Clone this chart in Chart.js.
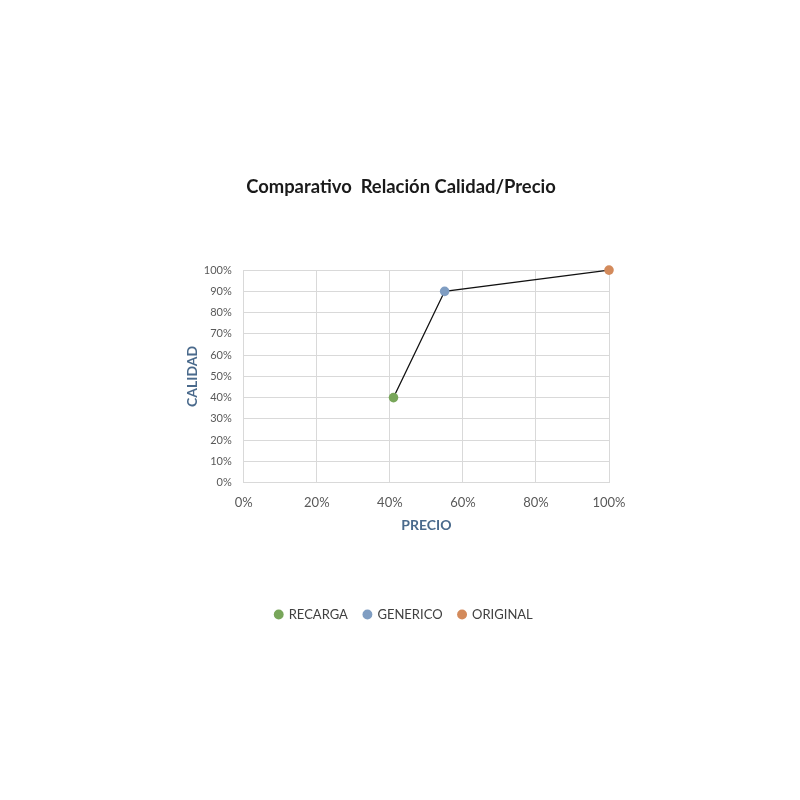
<!DOCTYPE html>
<html>
<head>
<meta charset="utf-8">
<script src="https://cdn.jsdelivr.net/npm/chart.js@4/dist/chart.umd.min.js"></script>
<style>
  html, body { margin: 0; padding: 0; background: #fff; }
  #wrap { width: 800px; height: 800px; }
</style>
</head>
<body>
<div id="wrap"><canvas id="chart" width="800" height="800"></canvas></div>
<script>
var seriesNames = ['RECARGA', 'GENERICO', 'ORIGINAL'];
var precio = [41, 55, 100];   // x, percent
var calidad = [40, 90, 100];  // y, percent
var seriesColors = ['#78A65A', '#7F9DC2', '#D38A5B'];

var font = 'Lato, "Open Sans", sans-serif';

var pointSets = seriesNames.map(function(name, i) {
    return {
        label: name,
        data: [{x: precio[i], y: calidad[i]}],
        backgroundColor: seriesColors[i],
        borderColor: seriesColors[i],
        pointRadius: 4.8,
        pointBorderWidth: 0,
        showLine: false,
        clip: false,
        order: 1
    };
});

var lineSet = {
    label: 'linea',
    data: precio.map(function(p, i) { return {x: p, y: calidad[i]}; }),
    borderColor: '#111',
    borderWidth: 1.3,
    pointRadius: 0,
    showLine: true,
    clip: false,
    order: 2
};

// title and legend sit centred on the page, not on the padded box
var centreBoxes = {
    id: 'centreBoxes',
    afterLayout: function(chart) {
        chart.titleBlock.left += 12; chart.titleBlock.right += 12;
        chart.legend.left += 15; chart.legend.right += 15;
    }
};

var context = document.getElementById('chart').getContext('2d');
new Chart(context, {
    type: 'scatter',
    data: {datasets: pointSets.concat([lineSet])},
    plugins: [centreBoxes],
    options: {
        responsive: false,
        animation: false,
        layout: {padding: {top: 176, left: 169, right: 191, bottom: 169}},
        plugins: {
            title: {
                display: true,
                text: 'Comparativo  Relación Calidad/Precio',
                color: '#1a1a1a',
                font: {family: font, size: 18.4, weight: 'bold'},
                padding: {top: 0, bottom: 72}
            },
            legend: {
                position: 'bottom',
                labels: {
                    filter: function(item) { return item.text !== 'linea'; },
                    usePointStyle: true,
                    pointStyle: 'circle',
                    boxWidth: 7,
                    boxHeight: 7,
                    padding: 16,
                    color: '#404040',
                    font: {family: font, size: 13}
                }
            },
            tooltip: {enabled: false}
        },
        scales: {
            x: {
                min: 0, max: 100,
                ticks: {
                    stepSize: 20,
                    color: '#595959',
                    font: {family: font, size: 13},
                    padding: 12,
                    callback: function(v) { return v + '%'; }
                },
                grid: {color: '#D9D9D9', drawTicks: false},
                border: {color: '#D9D9D9'},
                title: {
                    display: true,
                    text: 'PRECIO',
                    color: '#4A6A8C',
                    font: {family: font, size: 14, weight: 'bold'},
                    padding: {top: -5, bottom: 58}
                }
            },
            y: {
                min: 0, max: 100,
                ticks: {
                    stepSize: 10,
                    color: '#595959',
                    font: {family: font, size: 11},
                    padding: 12,
                    callback: function(v) { return v + '%'; }
                },
                grid: {color: '#D9D9D9', drawTicks: false},
                border: {color: '#D9D9D9'},
                title: {
                    display: true,
                    text: 'CALIDAD',
                    color: '#4A6A8C',
                    font: {family: font, size: 14, weight: 'bold'},
                    padding: {top: 15, bottom: -9}
                }
            }
        }
    }
});
</script>
</body>
</html>
